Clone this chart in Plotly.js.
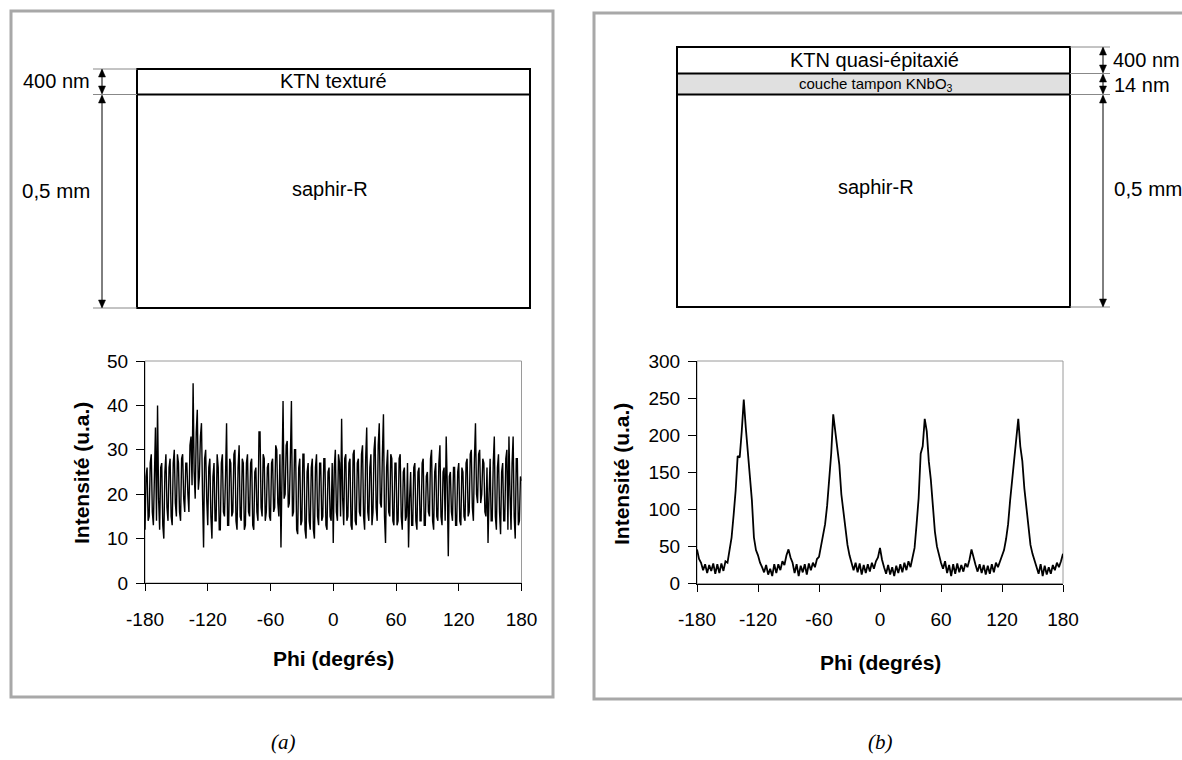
<!DOCTYPE html>
<html>
<head>
<meta charset="utf-8">
<script src="https://cdn.plot.ly/plotly-3.0.1.min.js"></script>
<style>
  html, body { margin: 0; padding: 0; background: #ffffff; }
  #chart { width: 1182px; height: 760px; }
</style>
</head>
<body>
<div id="chart"></div>
<script>
// ---- Data ----
// (a) KTN texturé : 1-degree sampling
const phiA = [
  -180,-179,-178,-177,-176,-175,-174,-173,-172,-171,-170,-169,-168,-167,-166,-165,-164,-163,-162,-161,
  -160,-159,-158,-157,-156,-155,-154,-153,-152,-151,-150,-149,-148,-147,-146,-145,-144,-143,-142,-141,
  -140,-139,-138,-137,-136,-135,-134,-133,-132,-131,-130,-129,-128,-127,-126,-125,-124,-123,-122,-121,
  -120,-119,-118,-117,-116,-115,-114,-113,-112,-111,-110,-109,-108,-107,-106,-105,-104,-103,-102,-101,
  -100,-99,-98,-97,-96,-95,-94,-93,-92,-91,-90,-89,-88,-87,-86,-85,-84,-83,-82,-81,
  -80,-79,-78,-77,-76,-75,-74,-73,-72,-71,-70,-69,-68,-67,-66,-65,-64,-63,-62,-61,
  -60,-59,-58,-57,-56,-55,-54,-53,-52,-51,-50,-49,-48,-47,-46,-45,-44,-43,-42,-41,
  -40,-39,-38,-37,-36,-35,-34,-33,-32,-31,-30,-29,-28,-27,-26,-25,-24,-23,-22,-21,
  -20,-19,-18,-17,-16,-15,-14,-13,-12,-11,-10,-9,-8,-7,-6,-5,-4,-3,-2,-1,
  0,1,2,3,4,5,6,7,8,9,10,11,12,13,14,15,16,17,18,19,
  20,21,22,23,24,25,26,27,28,29,30,31,32,33,34,35,36,37,38,39,
  40,41,42,43,44,45,46,47,48,49,50,51,52,53,54,55,56,57,58,59,
  60,61,62,63,64,65,66,67,68,69,70,71,72,73,74,75,76,77,78,79,
  80,81,82,83,84,85,86,87,88,89,90,91,92,93,94,95,96,97,98,99,
  100,101,102,103,104,105,106,107,108,109,110,111,112,113,114,115,116,117,118,119,
  120,121,122,123,124,125,126,127,128,129,130,131,132,133,134,135,136,137,138,139,
  140,141,142,143,144,145,146,147,148,149,150,151,152,153,154,155,156,157,158,159,
  160,161,162,163,164,165,166,167,168,169,170,171,172,173,174,175,176,177,178,179,
  180
];
const intensityA = [
  12,24,26,14,15,27,29,16,13,22,35,14,40,19,12,26,27,13,10,25,
  29,17,14,26,28,15,13,27,30,18,15,29,27,16,14,28,29,19,16,27,
  27,20,16,31,33,22,45,25,19,34,39,21,24,33,36,20,8,28,30,19,
  13,26,28,15,10,24,27,14,14,29,26,12,12,27,29,16,15,24,36,13,
  13,28,27,15,16,29,30,14,12,26,31,15,14,28,27,12,13,27,29,16,
  15,27,28,13,12,25,26,16,14,34,34,17,15,29,28,14,16,26,27,15,
  14,27,28,16,17,31,30,18,15,29,8,24,41,19,20,31,32,17,18,28,
  41,15,16,30,30,12,11,26,28,13,14,29,29,12,10,25,27,14,12,26,
  28,12,10,26,29,15,13,27,27,14,15,28,28,13,12,25,26,15,14,27,
  9,26,30,16,14,29,27,15,37,19,13,28,29,14,15,27,28,13,12,29,
  30,14,13,27,28,16,15,29,31,15,12,28,35,16,14,26,29,13,16,30,
  33,17,14,31,36,18,17,29,38,15,9,26,30,16,15,29,28,14,13,27,
  27,13,14,28,29,15,12,25,26,14,15,27,8,19,25,13,13,26,27,14,
  12,25,26,14,14,27,28,13,13,24,25,16,15,28,30,14,12,25,27,15,
  14,27,31,15,13,25,26,14,33,22,6,24,25,16,14,26,26,13,13,25,
  27,14,13,26,25,15,14,27,28,15,16,29,30,17,14,28,36,20,18,29,
  30,18,20,28,27,16,15,26,9,20,28,14,14,27,33,15,12,26,29,16,
  11,25,27,14,14,28,30,12,33,20,12,27,33,15,10,28,28,13,14,24,
  23
];

// (b) KTN quasi-épitaxié : 2-degree sampling
const phiB = [
  -180,-178,-176,-174,-172,-170,-168,-166,-164,-162,
  -160,-158,-156,-154,-152,-150,-148,-146,-144,-142,
  -140,-138,-136,-134,-132,-130,-128,-126,-124,-122,
  -120,-118,-116,-114,-112,-110,-108,-106,-104,-102,
  -100,-98,-96,-94,-92,-90,-88,-86,-84,-82,
  -80,-78,-76,-74,-72,-70,-68,-66,-64,-62,
  -60,-58,-56,-54,-52,-50,-48,-46,-44,-42,
  -40,-38,-36,-34,-32,-30,-28,-26,-24,-22,
  -20,-18,-16,-14,-12,-10,-8,-6,-4,-2,
  0,2,4,6,8,10,12,14,16,18,
  20,22,24,26,28,30,32,34,36,38,
  40,42,44,46,48,50,52,54,56,58,
  60,62,64,66,68,70,72,74,76,78,
  80,82,84,86,88,90,92,94,96,98,
  100,102,104,106,108,110,112,114,116,118,
  120,122,124,126,128,130,132,134,136,138,
  140,142,144,146,148,150,152,154,156,158,
  160,162,164,166,168,170,172,174,176,178,
  180
];
const intensityB = [
  46,33,28,18,26,14,25,17,27,13,
  26,14,27,17,30,28,45,62,92,125,
  172,170,205,248,210,175,150,112,62,45,
  38,28,22,15,25,12,20,10,26,14,
  26,18,30,25,38,46,35,28,14,26,
  10,24,15,26,12,27,18,28,22,33,
  36,50,62,80,105,140,175,228,205,185,
  160,120,95,70,52,38,28,18,28,15,
  27,12,25,14,26,16,28,20,30,35,
  48,32,22,13,25,12,22,10,24,14,
  26,15,28,18,30,22,35,48,80,115,
  175,185,222,205,165,140,105,70,50,38,
  28,20,30,14,25,10,26,13,27,15,
  25,16,27,22,32,46,34,25,16,26,
  14,25,12,24,13,26,15,28,22,30,
  36,45,60,80,112,140,175,200,222,185,
  165,128,100,72,52,40,30,22,13,26,
  10,24,12,22,13,25,18,28,22,30,
  40
];

const phiTicks = [-180, -120, -60, 0, 60, 120, 180];
const xTitle = 'Phi (degrés)';
const yTitle = 'Intensité (u.a.)';

// ---- Layout helpers (pixel -> paper) ----
const W = 1182, H = 760;
const X = px => px / W;
const Y = py => 1 - py / H;
const FONT = 'Liberation Sans, Arial, sans-serif';
const SERIF = 'Liberation Serif, Times New Roman, serif';

const shapes = [];
const annotations = [];

function rect(x0, y0, x1, y1, color, width, fill, layer) {
  shapes.push({type: 'rect', xref: 'paper', yref: 'paper',
    x0: X(x0), y0: Y(y1), x1: X(x1), y1: Y(y0),
    line: {color: color, width: width}, fillcolor: fill || 'rgba(0,0,0,0)', layer: layer || 'above'});
}
function line(x0, y0, x1, y1, color, width) {
  shapes.push({type: 'line', xref: 'paper', yref: 'paper',
    x0: X(x0), y0: Y(y0), x1: X(x1), y1: Y(y1),
    line: {color: color, width: width}});
}
// arrowhead: tip at (xc, ytip); dir = +1 -> points up, -1 -> points down
function head(xc, ytip, dir) {
  const b = ytip + 8 * dir;
  shapes.push({type: 'path', xref: 'paper', yref: 'paper',
    path: `M ${X(xc)} ${Y(ytip)} L ${X(xc - 3.5)} ${Y(b)} L ${X(xc + 3.5)} ${Y(b)} Z`,
    fillcolor: '#000', line: {color: '#000', width: 0.5}});
}
function dimArrow(xc, ya, yb) {
  line(xc, ya + 1, xc, yb - 1, '#000', 1);
  head(xc, ya, 1);
  head(xc, yb, -1);
}
function text(t, x, y, size, opts) {
  opts = opts || {};
  annotations.push(Object.assign({
    text: t, xref: 'paper', yref: 'paper', x: X(x), y: Y(y),
    xanchor: 'center', yanchor: 'middle', showarrow: false,
    font: {family: FONT, size: size, color: '#000'}
  }, opts));
}

// ---- Panel frames ----
rect(11, 11, 553, 697, '#a8a8a8', 3, null, 'below');
rect(594, 13, 1200, 699, '#a8a8a8', 3, null, 'below');

// ---- Schematic (a) ----
rect(137, 69, 530, 308, '#000', 2);
line(137, 94.5, 530, 94.5, '#000', 2);
line(93, 69, 137, 69, '#888', 1);
line(93, 94.5, 137, 94.5, '#888', 1);
line(93, 308, 137, 308, '#888', 1);
dimArrow(102, 69, 94);
dimArrow(102, 95, 308);
text('400 nm', 92, 81, 20, {xanchor: 'right'});
text('0,5 mm', 20, 191, 20.5, {xanchor: 'left'});
text('KTN texturé', 333, 81, 20);
text('saphir-R', 330, 189, 20);

// ---- Schematic (b) ----
rect(677, 74, 1070, 95, '#000', 0, '#e0e0e0', 'below');
rect(677, 47, 1070, 307, '#000', 2);
line(677, 73.5, 1070, 73.5, '#000', 2);
line(677, 94.5, 1070, 94.5, '#000', 2);
line(1070, 47, 1110, 47, '#888', 1);
line(1070, 73.5, 1110, 73.5, '#888', 1);
line(1070, 94.5, 1110, 94.5, '#888', 1);
line(1070, 307, 1110, 307, '#888', 1);
dimArrow(1103, 47, 73);
dimArrow(1103, 74, 94);
dimArrow(1103, 95, 307);
text('400 nm', 1111, 60, 20, {xanchor: 'left'});
text('14 nm', 1112, 85, 20, {xanchor: 'left'});
text('0,5 mm', 1112, 188, 20.5, {xanchor: 'left'});
text('KTN quasi-épitaxié', 874, 60, 20);
text('couche tampon KNbO<sub>3</sub>', 876, 84, 15);
text('saphir-R', 876, 187, 20);

// ---- Plot frames (gray top/right border of plot areas) ----
shapes.push({type: 'rect', xref: 'x domain', yref: 'y domain', x0: 0, x1: 1, y0: 0, y1: 1,
  line: {color: '#9a9a9a', width: 1}, layer: 'below'});
shapes.push({type: 'rect', xref: 'x2 domain', yref: 'y2 domain', x0: 0, x1: 1, y0: 0, y1: 1,
  line: {color: '#9a9a9a', width: 1}, layer: 'below'});

// ---- Axis titles ----
text('<b>' + xTitle + '</b>', 333, 658, 21);
text('<b>' + yTitle + '</b>', 81, 473, 21, {textangle: -90});
text('<b>' + xTitle + '</b>', 880, 662, 21);
text('<b>' + yTitle + '</b>', 621, 474, 21, {textangle: -90});

// ---- Panel labels ----
text('<i>(a)</i>', 283, 742, 21, {font: {family: SERIF, size: 21, color: '#000'}});
text('<i>(b)</i>', 880, 742, 21, {font: {family: SERIF, size: 21, color: '#000'}});

const tickFont = {family: FONT, size: 19, color: '#000'};
const xBase = {
  range: [-180, 180], tickmode: 'array', tickvals: phiTicks, ticktext: phiTicks.map(String),
  ticks: 'outside', ticklen: 7, tickwidth: 1, tickcolor: '#000',
  showline: true, linecolor: '#000', linewidth: 1,
  showgrid: false, zeroline: false, tickfont: tickFont, fixedrange: true, ticklabelstandoff: 12
};
const yBase = {
  ticks: 'outside', ticklen: 8, tickwidth: 1, tickcolor: '#000',
  showline: true, linecolor: '#000', linewidth: 1,
  showgrid: false, zeroline: false, tickfont: tickFont, fixedrange: true, ticklabelstandoff: 4
};

const traces = [
  {x: phiA, y: intensityA, type: 'scatter', mode: 'lines', xaxis: 'x', yaxis: 'y',
   line: {color: '#000', width: 1.4}, hoverinfo: 'x+y', showlegend: false},
  {x: phiB, y: intensityB, type: 'scatter', mode: 'lines', xaxis: 'x2', yaxis: 'y2',
   line: {color: '#000', width: 1.8}, hoverinfo: 'x+y', showlegend: false}
];

const layout = {
  width: W, height: H,
  margin: {l: 0, r: 0, t: 0, b: 0},
  paper_bgcolor: '#fff', plot_bgcolor: 'rgba(0,0,0,0)',
  showlegend: false,
  xaxis: Object.assign({}, xBase, {domain: [X(145), X(521.5)], anchor: 'y'}),
  yaxis: Object.assign({}, yBase, {domain: [Y(583), Y(361)], range: [0, 50], dtick: 10, tick0: 0, anchor: 'x'}),
  xaxis2: Object.assign({}, xBase, {domain: [X(697), X(1063)], anchor: 'y2'}),
  yaxis2: Object.assign({}, yBase, {domain: [Y(583.5), Y(361)], range: [0, 300], dtick: 50, tick0: 0, anchor: 'x2'}),
  shapes: shapes,
  annotations: annotations
};

Plotly.newPlot('chart', traces, layout, {staticPlot: true, displayModeBar: false});
</script>
</body>
</html>
